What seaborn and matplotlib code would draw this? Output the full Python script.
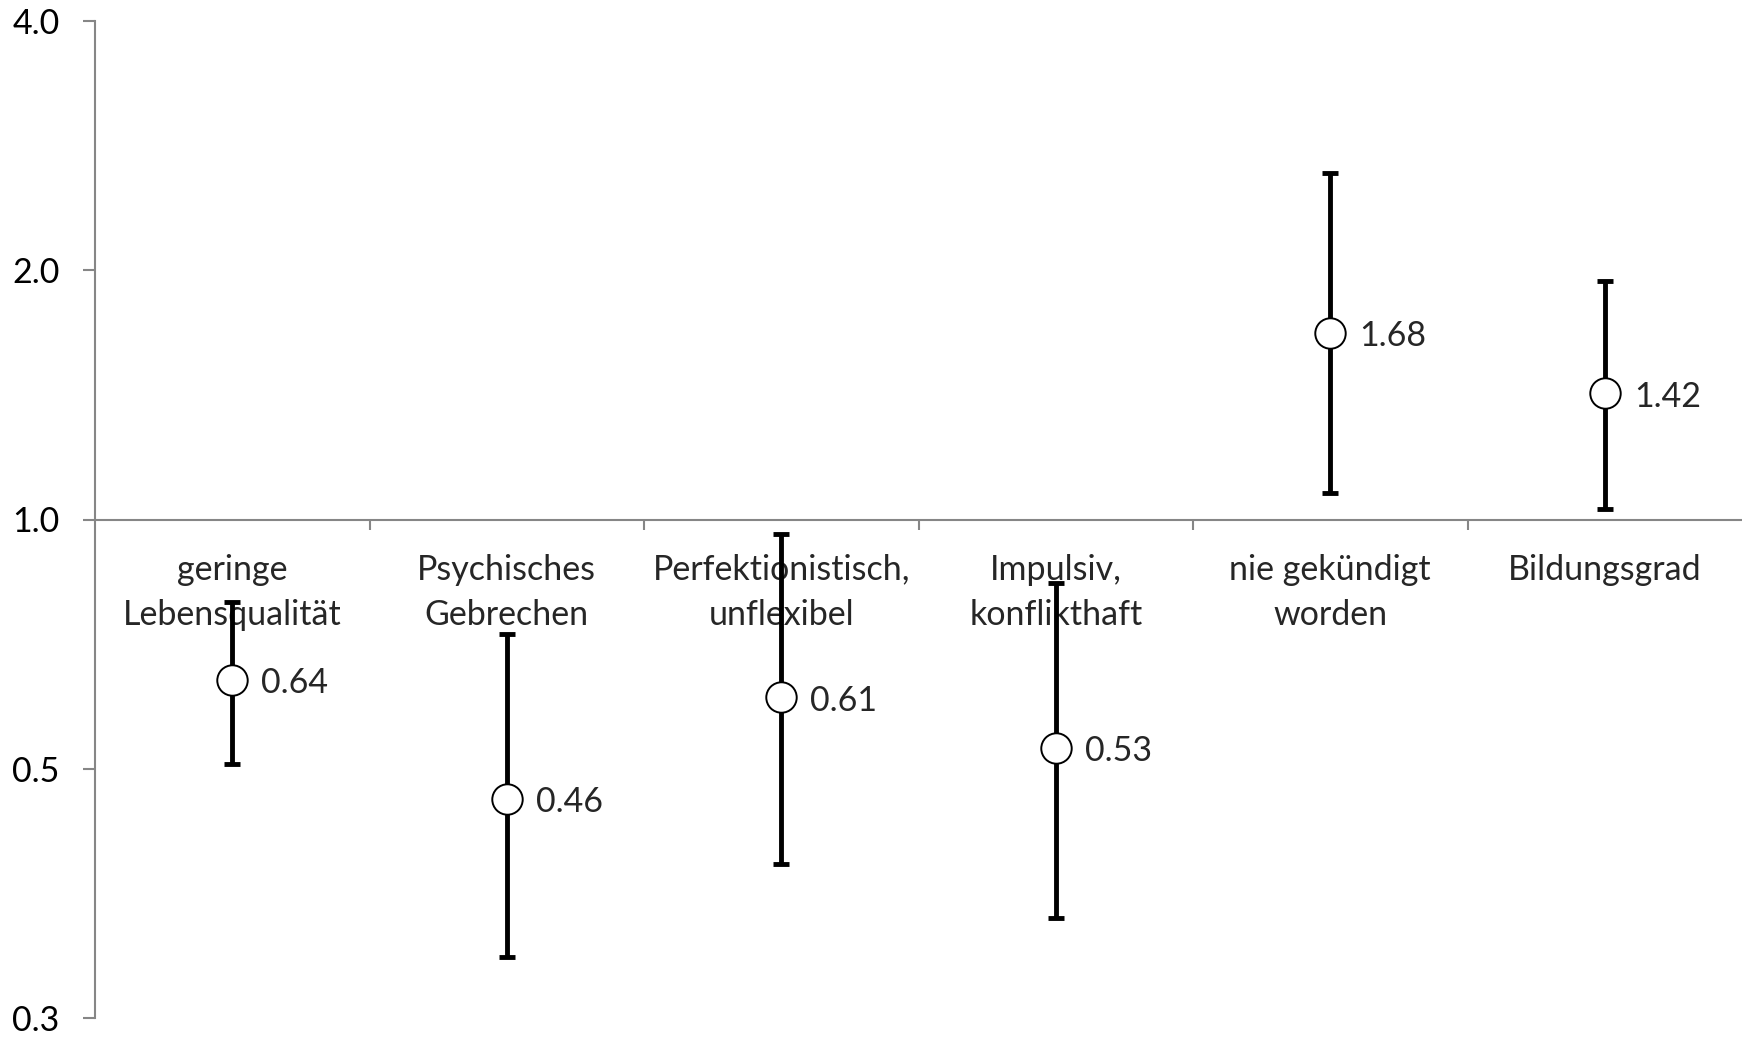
import numpy as np
import pandas as pd
import matplotlib
matplotlib.use('Agg')
import matplotlib.pyplot as plt
from matplotlib.ticker import FixedLocator, FixedFormatter
import seaborn as sns

# odds ratios with confidence intervals
categories = ['geringe\nLebensqualität', 'Psychisches\nGebrechen', 'Perfektionistisch,\nunflexibel',
              'Impulsiv,\nkonflikthaft', 'nie gekündigt\nworden', 'Bildungsgrad']
odds = [0.64, 0.46, 0.61, 0.53, 1.68, 1.42]
ci_low = [0.506, 0.296, 0.384, 0.330, 1.077, 1.031]
ci_high = [0.795, 0.727, 0.961, 0.838, 2.618, 1.939]
value_labels = ['0.64', '0.46', '0.61', '0.53', '1.68', '1.42']
ytick_vals = [0.25, 0.5, 1.0, 2.0, 4.0]
ytick_labels = ['0.3', '0.5', '1.0', '2.0', '4.0']

df = pd.DataFrame({'pos': np.arange(len(categories)), 'odds': odds,
                   'low': ci_low, 'high': ci_high})

sns.set_theme(style='white')
plt.rcParams['font.family'] = ['Lato', 'DejaVu Sans']
axis_gray = '#868686'
fs = 24.5

fig = plt.figure(figsize=(17.42, 10.39), dpi=100)
ax = fig.add_axes([95 / 1742, 21 / 1039, 1 - 95 / 1742, 1 - 42 / 1039])

# error bars
yerr = np.vstack([df['odds'] - df['low'], df['high'] - df['odds']])
ax.errorbar(df['pos'], df['odds'], yerr=yerr, fmt='none', ecolor='black',
            elinewidth=3.5, capsize=5.5, capthick=3.5, zorder=2)

# circle markers
sns.scatterplot(data=df, x='pos', y='odds', ax=ax, s=480, marker='o',
                facecolor='white', edgecolor='black', linewidth=1.4, zorder=3)

for x, y, lab in zip(df['pos'], df['odds'], value_labels):
    ax.annotate(lab, (x, y), xytext=(21, -2.5), textcoords='offset points',
                ha='left', va='center', fontsize=fs)

# category labels hang just below the 1.0 line
for x, cat in zip(df['pos'], categories):
    ax.annotate(cat, (x, 1.0), xytext=(0, -24.5), textcoords='offset points',
                ha='center', va='top', fontsize=fs, linespacing=1.5, zorder=1)

ax.set_yscale('log', base=2)
ax.set_ylim(0.25, 4.0)
ax.set_xlim(-0.5, len(categories) - 0.5)
ax.yaxis.set_major_locator(FixedLocator(ytick_vals))
ax.yaxis.set_major_formatter(FixedFormatter(ytick_labels))
ax.yaxis.set_minor_locator(FixedLocator([]))

ax.set_xticks(np.arange(0.5, len(categories) - 0.5))
ax.set_xticklabels([])
ax.tick_params(axis='x', which='major', bottom=True, length=7.5, width=1.5,
               color=axis_gray, direction='out')
ax.tick_params(axis='y', which='major', left=True, length=8.5, width=1.5, color=axis_gray,
               direction='out', pad=17, labelsize=fs, labelcolor='black')

ax.spines['bottom'].set_position(('data', 1.0))
for side in ['top', 'right']:
    ax.spines[side].set_visible(False)
for side in ['left', 'bottom']:
    ax.spines[side].set_color(axis_gray)
    ax.spines[side].set_linewidth(1.5)
ax.set_xlabel('')
ax.set_ylabel('')
ax.grid(False)

fig.savefig('out.png', dpi=100)
